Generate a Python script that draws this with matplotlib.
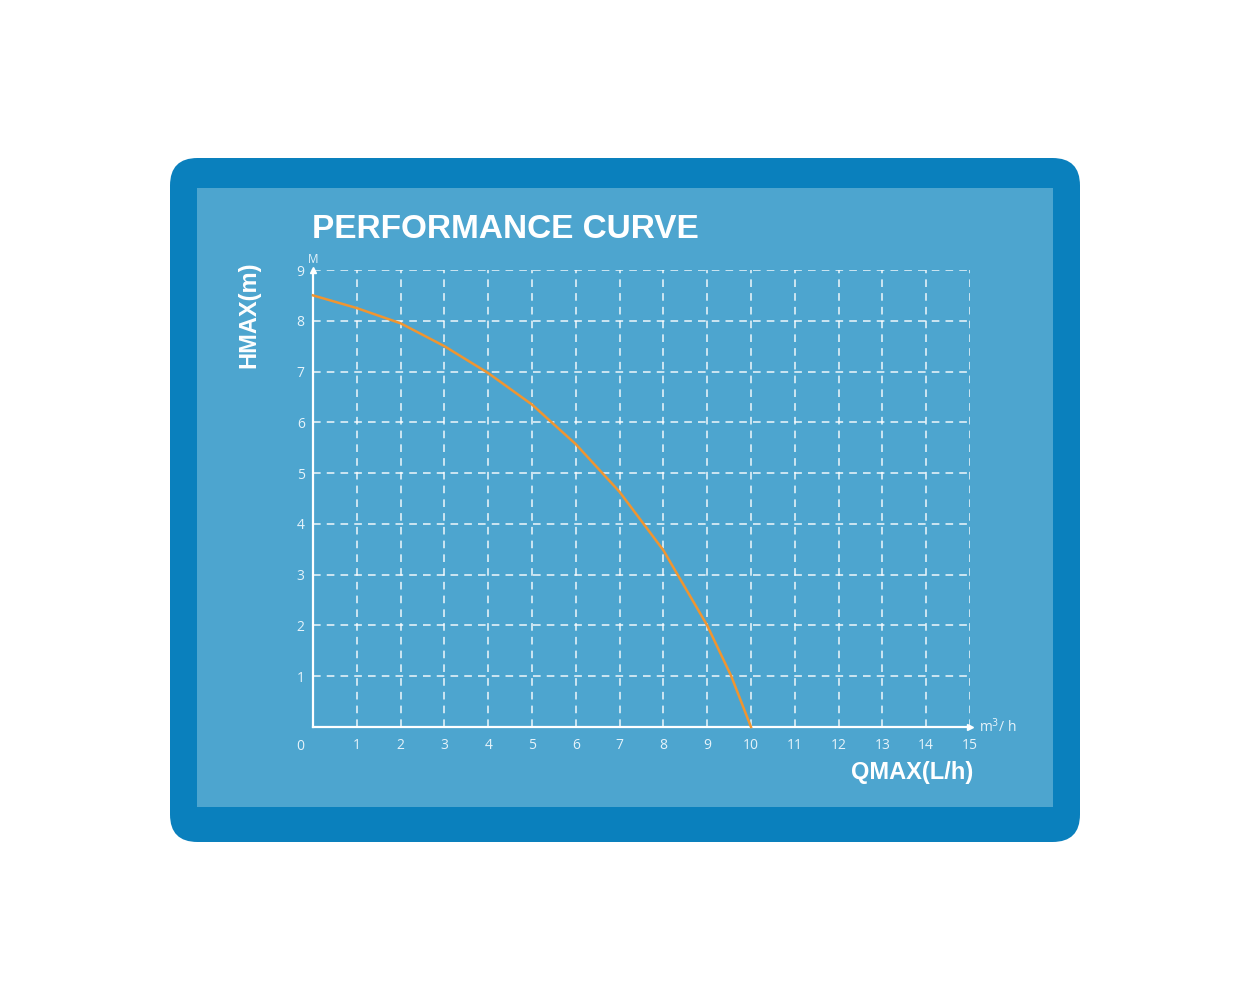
import matplotlib
matplotlib.use('Agg')
import matplotlib.pyplot as plt
from matplotlib.patches import FancyBboxPatch, Rectangle

# curve (flow m3/h, head m)
flow = [0, 1, 2, 3, 4, 5, 6, 7, 8, 9, 9.55, 10]
head = [8.5, 8.25, 7.95, 7.5, 6.97, 6.35, 5.57, 4.63, 3.48, 2.0, 1.0, 0]
x_ticks = list(range(1, 16))
y_ticks = list(range(1, 10))

W, H = 1250, 1000
fig = plt.figure(figsize=(12.5, 10), dpi=100)
fig.patch.set_facecolor('white')

def fx(px):
    return px / W

def fy(py):
    return 1 - py / H

# outer rounded frame and inner panel
outer = FancyBboxPatch((fx(170), fy(842)), fx(1080) - fx(170), fy(158) - fy(842),
                       boxstyle="round,pad=0,rounding_size=0.022",
                       transform=fig.transFigure, facecolor='#0a80bd',
                       edgecolor='none', mutation_aspect=1.25, zorder=-10)
fig.patches.append(outer)
inner = Rectangle((fx(197), fy(807)), fx(1053) - fx(197), fy(188) - fy(807),
                  transform=fig.transFigure, facecolor='#4da5cf', edgecolor='none',
                  zorder=-9)
fig.patches.append(inner)

txt = '#e6f3fa'
ax = fig.add_axes([fx(313), fy(727), fx(970) - fx(313), fy(270) - fy(727)])
ax.set_facecolor('none')
ax.set_xlim(0, 15)
ax.set_ylim(0, 9)

for v in x_ticks:
    ax.axvline(v, color='white', lw=1.1, ls=(0, (5, 4)), alpha=0.9, zorder=1)
for v in y_ticks:
    ax.axhline(v, color='white', lw=1.1, ls=(0, (5, 4)), alpha=0.9, zorder=1)

for s in ['top', 'right']:
    ax.spines[s].set_visible(False)
for s in ['left', 'bottom']:
    ax.spines[s].set_color('white')
    ax.spines[s].set_linewidth(1.6)

ax.plot([15], [0], marker='>', color='white', ms=4, clip_on=False, zorder=3)
ax.plot([0], [9], marker='^', color='white', ms=4, clip_on=False, zorder=3)

ax.plot(flow, head, color='#f09530', lw=1.8, zorder=4, clip_on=False)

font = 'Open Sans'
ax.set_xticks(x_ticks)
ax.set_xticklabels([str(v) for v in x_ticks], fontsize=10, color=txt, family=font)
ax.set_yticks(y_ticks)
ax.set_yticklabels([str(v) for v in y_ticks], fontsize=10, color=txt, family=font)
ax.tick_params(axis='x', length=0, pad=8)
ax.tick_params(axis='y', length=0, pad=6)
ax.text(-0.3, -0.38, '0', ha='center', va='center', fontsize=10, color=txt, family=font)
ax.text(0, 9.08, 'M', ha='center', va='bottom', fontsize=8.5, color=txt, family=font)
ax.text(15.2, 0, 'm$^3$/ h', ha='left', va='center', fontsize=10, color=txt, family=font)

title = 'PERFORMANCE CURVE'
fig.text(fx(312), fy(229), title, ha='left', va='center',
         fontsize=24, fontweight='bold', color='white', family='Liberation Sans')
fig.text(fx(249), fy(315), 'HMAX(m)', ha='center', va='center', rotation=90,
         fontsize=17, fontweight='bold', color='white', family='Liberation Sans')
fig.text(fx(912), fy(773), 'QMAX(L/h)', ha='center', va='center',
         fontsize=17, fontweight='bold', color='white', family='Liberation Sans')

fig.savefig('out.png', dpi=100, facecolor='white')
